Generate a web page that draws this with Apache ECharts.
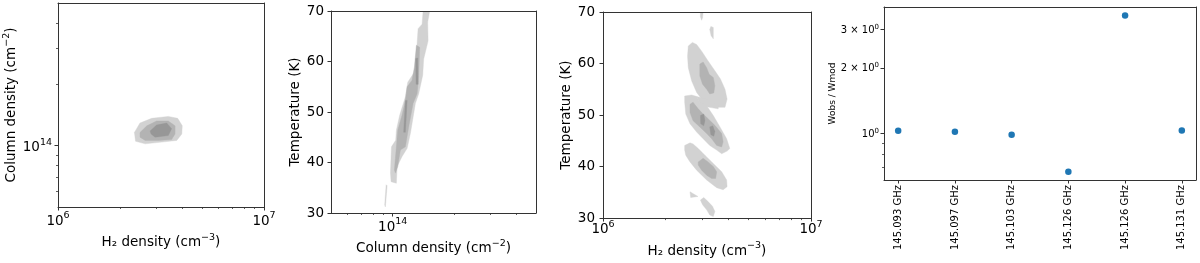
<!DOCTYPE html>
<html><head><meta charset="utf-8">
<script src="https://cdn.jsdelivr.net/npm/echarts@6/dist/echarts.min.js"></script>
<style>html,body{margin:0;padding:0;background:#fff}#c{width:1200px;height:263px}</style>
</head><body><div id="c"></div>
<script>
// ---------- Panel 1: H2 density vs Column density (contour polygons, data units) ----------
const p1Light = [
  [[2.35e6,1.16e14],[2.50e6,1.29e14],[2.85e6,1.36e14],[3.43e6,1.39e14],[3.81e6,1.36e14],[4.01e6,1.25e14],[3.99e6,1.14e14],[3.77e6,1.06e14],[3.19e6,1.04e14],[2.65e6,1.02e14],[2.38e6,1.05e14]]
];
const p1Mid = [
  [[2.50e6,1.16e14],[2.70e6,1.25e14],[3.01e6,1.32e14],[3.43e6,1.32e14],[3.70e6,1.25e14],[3.70e6,1.14e14],[3.56e6,1.07e14],[3.07e6,1.06e14],[2.65e6,1.06e14],[2.50e6,1.10e14]]
];
const p1Dark = [
  [[2.80e6,1.18e14],[3.01e6,1.26e14],[3.37e6,1.29e14],[3.56e6,1.21e14],[3.43e6,1.12e14],[2.96e6,1.10e14],[2.83e6,1.14e14]]
];
// ---------- Panel 2: Column density vs Temperature ----------
const p2Light = [
  [[1.407e14,70],[1.391e14,67.4],[1.330e14,66.5],[1.315e14,63.5],[1.300e14,60.9],[1.276e14,57.9],[1.184e14,55.9],[1.153e14,53.0],[1.082e14,49.4],[1.042e14,46.4],[1.034e14,44.4],[0.986e14,43.1],[0.975e14,37.9],[0.982e14,36.2],[1.042e14,35.9],[1.051e14,39.2],[1.111e14,41.2],[1.176e14,42.8],[1.220e14,45.8],[1.290e14,51.7],[1.339e14,53.6],[1.401e14,57.3],[1.416e14,60.5],[1.488e14,64.1],[1.481e14,67.8],[1.515e14,70]],
  [[0.929e14,35.6],[0.939e14,35.4],[0.921e14,31.2],[0.914e14,31.6]]
];
const p2Mid = [
  [[1.305e14,63.2],[1.276e14,58.9],[1.243e14,56.3],[1.176e14,55.0],[1.153e14,52.3],[1.111e14,49.4],[1.058e14,46.4],[1.042e14,43.1],[1.019e14,38.5],[1.031e14,37.9],[1.058e14,39.2],[1.090e14,42.5],[1.153e14,43.1],[1.197e14,47.1],[1.257e14,51.7],[1.315e14,53.6],[1.339e14,56.9],[1.354e14,62.8]]
];
const p2Dark = [
  [[1.295e14,60.6],[1.324e14,60.7],[1.330e14,55.5],[1.300e14,55.5]],
  [[1.153e14,52.3],[1.176e14,52.3],[1.153e14,46.0],[1.131e14,46.0]]
];
// ---------- Panel 3: H2 density vs Temperature ----------
const p3Light = [
  [[2.94e6,70],[3.03e6,70],[3.01e6,68.9],[2.98e6,68.4],[2.94e6,69.1]],
  [[3.30e6,67.2],[3.39e6,67.0],[3.39e6,64.8],[3.31e6,65.4],[3.26e6,66.6]],
  [[2.57e6,63.4],[2.69e6,64.1],[2.82e6,63.7],[2.98e6,62.4],[3.20e6,60.5],[3.45e6,58.6],[3.67e6,57.0],[3.86e6,55.0],[3.95e6,53.1],[3.86e6,51.5],[3.58e6,51.5],[3.36e6,52.0],[3.15e6,52.3],[2.98e6,53.1],[2.82e6,54.4],[2.67e6,56.6],[2.57e6,59.2],[2.55e6,61.4]],
  [[2.82e6,53.6],[3.15e6,53.1],[3.58e6,52.0],[3.58e6,51.2],[3.15e6,51.6],[2.92e6,52.3]],
  [[2.47e6,53.7],[2.67e6,53.9],[2.82e6,53.6],[2.92e6,52.5],[3.15e6,51.8],[3.39e6,49.9],[3.65e6,47.7],[3.93e6,45.4],[4.07e6,43.5],[3.95e6,43.0],[3.72e6,42.5],[3.52e6,43.2],[3.26e6,44.1],[3.03e6,45.4],[2.82e6,46.7],[2.62e6,48.3],[2.50e6,50.2],[2.47e6,52.5]],
  [[2.47e6,44.1],[2.62e6,44.6],[2.71e6,44.4],[2.87e6,43.5],[3.09e6,42.2],[3.39e6,40.6],[3.72e6,39.0],[3.93e6,37.4],[3.95e6,36.1],[3.78e6,35.5],[3.52e6,35.9],[3.15e6,37.4],[2.82e6,39.3],[2.62e6,40.9],[2.50e6,42.2],[2.47e6,43.2]],
  [[2.62e6,35.1],[2.86e6,34.2],[2.64e6,34.0]],
  [[2.94e6,33.5],[3.05e6,34.0],[3.20e6,33.2],[3.36e6,32.3],[3.45e6,31.3],[3.39e6,30.3],[3.26e6,30.6],[3.15e6,31.6],[3.01e6,32.6]]
];
const p3Mid = [
  [[2.92e6,59.9],[3.03e6,60.3],[3.15e6,59.2],[3.24e6,57.9],[3.39e6,57.3],[3.45e6,55.7],[3.41e6,54.3],[3.26e6,54.1],[3.15e6,55.0],[3.01e6,56.0],[2.92e6,57.6]],
  [[2.62e6,52.1],[2.71e6,52.5],[2.87e6,51.2],[3.03e6,50.2],[3.20e6,49.3],[3.45e6,48.0],[3.72e6,46.4],[3.78e6,44.8],[3.72e6,43.8],[3.52e6,44.1],[3.33e6,45.4],[3.15e6,46.4],[2.92e6,47.7],[2.71e6,48.9],[2.62e6,50.5]],
  [[2.87e6,40.9],[3.03e6,41.6],[3.20e6,40.9],[3.39e6,40.0],[3.52e6,39.0],[3.48e6,37.7],[3.33e6,37.7],[3.15e6,38.3],[2.98e6,39.3],[2.87e6,40.3]]
];
const p3Dark = [
  [[2.94e6,49.9],[3.05e6,50.2],[3.09e6,48.9],[3.05e6,47.9],[2.95e6,48.3]],
  [[3.26e6,47.7],[3.37e6,47.9],[3.45e6,46.8],[3.41e6,45.9],[3.30e6,46.2]]
];
// ---------- Panel 4: Wobs / Wmod per line ----------
const lineLabels = ['145.093 GHz','145.097 GHz','145.103 GHz','145.126 GHz','145.126 GHz','145.131 GHz'];
const ratio = [1.028, 1.017, 0.985, 0.667, 3.48, 1.032];

// ---------- Tick values & labels (rich-text: {b|base}{s|superscript}) ----------
const densTicks = [1e6, 1e7], densLabels = ['{b|10}{s|6}', '{b|10}{s|7}'];
const densMinor = [2e6,3e6,4e6,5e6,6e6,7e6,8e6,9e6];
const colTicks = [1e14], colLabels = ['{b|10}{s|14}'];
const colMinor = [6e13,7e13,8e13,9e13,2e14,3e14,4e14];
const ratioTicks = [1, 2, 3], ratioLabels = ['{b|10}{s|0}', '{b|2 × 10}{s|0}', '{b|3 × 10}{s|0}'];
const ratioMinor = [0.7, 0.8, 0.9];
const lineTicks = [0,1,2,3,4,5];
const nameDens = '{b|H₂ density (cm}{s|−3}{b|)}';
const nameCol = '{b|Column density (cm}{s|−2}{b|)}';

const C_LIGHT = '#d2d2d2', C_MID = '#b3b3b3', C_DARK = '#979797';
const FONT = 'DejaVu Sans';
const AX = '#333';

function richFor(fs) {
  const ss = Math.round(fs * 0.7 * 10) / 10;
  return {
    b: {fontSize: fs, fontFamily: FONT, color: '#000', verticalAlign: 'bottom'},
    s: {fontSize: ss, fontFamily: FONT, color: '#000', verticalAlign: 'top', padding: [0, 0, Math.round(fs * 0.5), 0]}
  };
}
function lookup(ticks, labels) {
  return v => { for (let i = 0; i < ticks.length; i++) if (Math.abs(v - ticks[i]) <= Math.abs(ticks[i]) * 1e-6) return labels[i]; return ''; };
}
function mainAxis(o) {
  return {
    gridIndex: o.g, type: o.type, min: o.min, max: o.max, position: o.pos,
    axisLine: {show: true, onZero: false, lineStyle: {color: AX, width: 1}},
    splitLine: {show: false},
    axisTick: {show: true, length: 3.5, lineStyle: {color: AX, width: 1}, customValues: o.ticks},
    axisLabel: {show: true, customValues: o.ticks, formatter: o.fmt, fontSize: o.fs, fontFamily: FONT, color: '#000',
      margin: o.margin, rotate: o.rotate || 0, rich: richFor(o.fs)},
    name: o.name, nameLocation: 'middle', nameGap: o.gap,
    nameTextStyle: {fontSize: o.nfs || o.fs, fontFamily: FONT, color: '#000', rich: richFor(o.nfs || o.fs)},
    z: 5
  };
}
function minorAxis(g, type, min, max, pos, ticks) {
  return {gridIndex: g, type: type, min: min, max: max, position: pos,
    axisLine: {show: false, onZero: false}, splitLine: {show: false},
    axisTick: {show: true, length: 2, lineStyle: {color: AX, width: 0.8}, customValues: ticks},
    axisLabel: {show: false}, z: 5};
}
function spineAxis(g, pos) {
  return {gridIndex: g, type: 'value', min: 0, max: 1, position: pos,
    axisLine: {show: true, onZero: false, lineStyle: {color: AX, width: 1}},
    axisTick: {show: false}, axisLabel: {show: false}, splitLine: {show: false}, z: 5};
}
function polySeries(polys, color, xi, yi) {
  return {
    type: 'custom', xAxisIndex: xi, yAxisIndex: yi, silent: true, clip: true,
    data: polys.map((p, i) => [p[0][0], p[0][1], i]),
    encode: {x: 0, y: 1},
    renderItem: (params, api) => {
      const poly = polys[api.value(2)];
      return {type: 'polygon', shape: {points: poly.map(pt => api.coord(pt))},
        style: {fill: color, stroke: color, lineWidth: 0.4}};
    }
  };
}

const xAxis = [
  // panel 1 (0,1,2)
  mainAxis({g:0, type:'log', min:1e6, max:1e7, pos:'bottom', ticks:densTicks, fmt:lookup(densTicks,densLabels), fs:13.5, margin:4, name:nameDens, gap:21}),
  minorAxis(0, 'log', 1e6, 1e7, 'bottom', densMinor),
  spineAxis(0, 'top'),
  // panel 2 (3,4,5)
  mainAxis({g:1, type:'log', min:5e13, max:5e14, pos:'bottom', ticks:colTicks, fmt:lookup(colTicks,colLabels), fs:13.5, margin:4, name:nameCol, gap:22}),
  minorAxis(1, 'log', 5e13, 5e14, 'bottom', colMinor),
  spineAxis(1, 'top'),
  // panel 3 (6,7,8)
  mainAxis({g:2, type:'log', min:1e6, max:1e7, pos:'bottom', ticks:densTicks, fmt:lookup(densTicks,densLabels), fs:13.5, margin:1, name:nameDens, gap:17}),
  minorAxis(2, 'log', 1e6, 1e7, 'bottom', densMinor),
  spineAxis(2, 'top'),
  // panel 4 (9,10)
  mainAxis({g:3, type:'value', min:-0.25, max:5.25, pos:'bottom', ticks:lineTicks, fmt:v => lineLabels[Math.round(v)], fs:10, margin:5, rotate:90, name:'', gap:0}),
  spineAxis(3, 'top')
];
const yAxis = [
  // panel 1 (0,1,2)
  mainAxis({g:0, type:'log', min:5e13, max:5e14, pos:'left', ticks:colTicks, fmt:lookup(colTicks,colLabels), fs:13.5, margin:6, name:nameCol, gap:36}),
  minorAxis(0, 'log', 5e13, 5e14, 'left', colMinor),
  spineAxis(0, 'right'),
  // panel 2 (3,4)
  mainAxis({g:1, type:'value', min:30, max:70, pos:'left', ticks:[30,40,50,60,70], fmt:v => String(v), fs:13.5, margin:7, name:'Temperature (K)', gap:27}),
  spineAxis(1, 'right'),
  // panel 3 (5,6)
  mainAxis({g:2, type:'value', min:30, max:70, pos:'left', ticks:[30,40,50,60,70], fmt:v => String(v), fs:13.5, margin:8, name:'Temperature (K)', gap:28}),
  spineAxis(2, 'right'),
  // panel 4 (7,8,9)
  mainAxis({g:3, type:'log', min:0.6105, max:3.808, pos:'left', ticks:ratioTicks, fmt:lookup(ratioTicks,ratioLabels), fs:10, nfs:9, margin:5, name:'Wobs / Wmod', gap:37}),
  minorAxis(3, 'log', 0.6105, 3.808, 'left', ratioMinor),
  spineAxis(3, 'right')
];

const series = [
  polySeries(p1Light, C_LIGHT, 0, 0), polySeries(p1Mid, C_MID, 0, 0), polySeries(p1Dark, C_DARK, 0, 0),
  polySeries(p2Light, C_LIGHT, 3, 3), polySeries(p2Mid, C_MID, 3, 3), polySeries(p2Dark, C_DARK, 3, 3),
  polySeries(p3Light, C_LIGHT, 6, 5), polySeries(p3Mid, C_MID, 6, 5), polySeries(p3Dark, C_DARK, 6, 5),
  {type: 'scatter', xAxisIndex: 9, yAxisIndex: 7, symbolSize: 6.5, silent: true,
   itemStyle: {color: '#1f77b4', opacity: 1},
   data: ratio.map((v, i) => [i, v])}
];

const chart = echarts.init(document.getElementById('c'), null, {renderer: 'canvas'});
chart.setOption({
  animation: false,
  backgroundColor: '#fff',
  grid: [
    {left: 58, top: 3, width: 206, height: 204},
    {left: 331, top: 11, width: 205, height: 202},
    {left: 603, top: 12, width: 208, height: 208},
    {left: 884, top: 7, width: 312, height: 173}
  ],
  xAxis: xAxis,
  yAxis: yAxis,
  series: series
});
</script></body></html>
